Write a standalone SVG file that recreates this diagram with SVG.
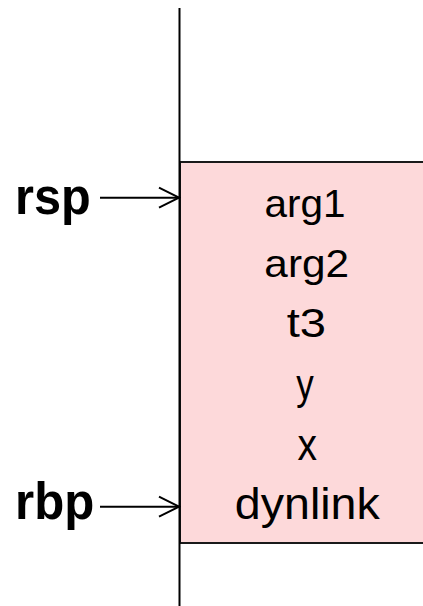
<svg xmlns="http://www.w3.org/2000/svg" width="423" height="606" viewBox="0 0 423 606">
  <style>
    .reg { font-family: "Liberation Sans", Arial, sans-serif; font-weight: bold; fill: #000; }
    .cell { font-family: "Liberation Sans", Arial, sans-serif; fill: #000; text-anchor: middle; }
    .edge { stroke: #000; stroke-width: 2; fill: none; }
  </style>
  <defs>
    <marker id="chev" markerUnits="userSpaceOnUse" viewBox="-2 -2 24 24" refX="20" refY="10" markerWidth="24" markerHeight="24" orient="auto">
      <path d="M0,0 L20,10 L0,20" fill="none" stroke="#000" stroke-width="2" stroke-linejoin="miter"/>
    </marker>
  </defs>

  <g id="stack">
    <rect x="180" y="162" width="250" height="381" fill="#FDD9DA" stroke="#1a1a1a" stroke-width="2"/>
    <line x1="179.5" y1="8" x2="179.5" y2="606" stroke="#000" stroke-width="2"/>
  </g>

  <g id="cells">
    <text class="cell" x="305" y="216.7" font-size="39" textLength="81" lengthAdjust="spacingAndGlyphs">arg1</text>
    <text class="cell" x="306.7" y="276.7" font-size="39" textLength="84.7" lengthAdjust="spacingAndGlyphs">arg2</text>
    <text class="cell" x="306.3" y="336.7" font-size="41" textLength="39.3" lengthAdjust="spacingAndGlyphs">t3</text>
    <text class="cell" x="305" y="398.5" font-size="43" textLength="17.5" lengthAdjust="spacingAndGlyphs">y</text>
    <text class="cell" x="307.2" y="460" font-size="45" textLength="19.5" lengthAdjust="spacingAndGlyphs">x</text>
    <text class="cell" x="307.3" y="518.7" font-size="44" textLength="145" lengthAdjust="spacingAndGlyphs">dynlink</text>
  </g>

  <g id="rsp">
    <text class="reg" x="15" y="214.3" font-size="52" textLength="75.7" lengthAdjust="spacingAndGlyphs">rsp</text>
  </g>
  <g id="rbp">
    <text class="reg" x="15" y="519.3" font-size="52" textLength="79.3" lengthAdjust="spacingAndGlyphs">rbp</text>
  </g>

  <g id="connectors">
    <line class="edge" x1="100" y1="197.7" x2="179" y2="197.7" marker-end="url(#chev)"/>
    <line class="edge" x1="100" y1="506.7" x2="179" y2="506.7" marker-end="url(#chev)"/>
  </g>
</svg>
